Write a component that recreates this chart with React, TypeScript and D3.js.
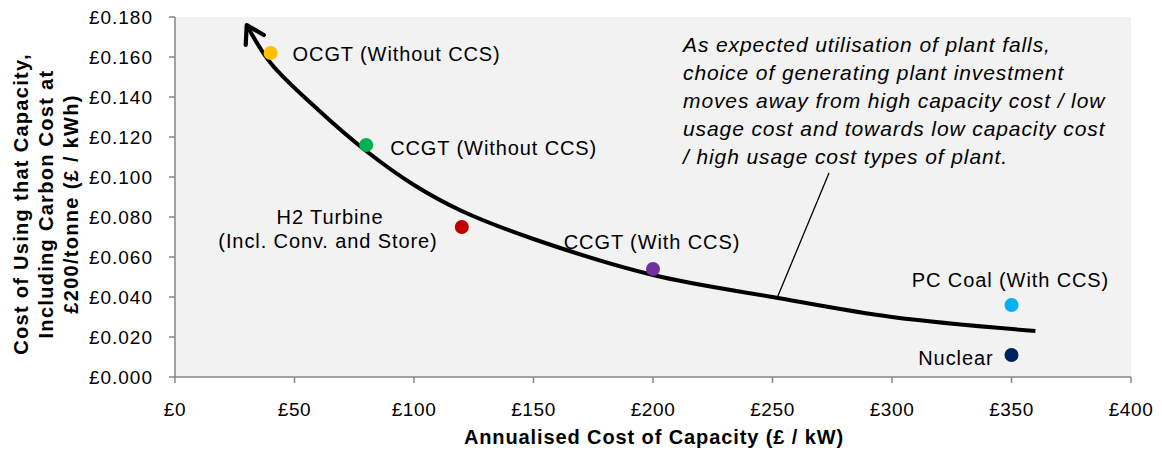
import React from "react";
import * as d3 from "d3";

const plants = ["OCGT (Without CCS)", "CCGT (Without CCS)", "H2 Turbine", "CCGT (With CCS)", "PC Coal (With CCS)", "Nuclear"];
const capacityCost = [40, 80, 120, 200, 350, 350];
const usageCost = [0.162, 0.116, 0.075, 0.054, 0.036, 0.011];
const plantColors = ["#FFC000", "#00B050", "#C00000", "#7030A0", "#00B0F0", "#002060"];

const trendX = [30, 40, 60, 80, 100, 120, 150, 200, 250, 300, 360];
const trendY = [0.176, 0.157, 0.1335, 0.113, 0.096, 0.083, 0.069, 0.051, 0.04, 0.03, 0.023];

const xTicks = [0, 50, 100, 150, 200, 250, 300, 350, 400];
const yTicks = [0, 0.02, 0.04, 0.06, 0.08, 0.1, 0.12, 0.14, 0.16, 0.18];

const annotation = [
  "As expected utilisation of plant falls,",
  "choice of generating plant investment",
  "moves away from high capacity cost / low",
  "usage cost and towards low capacity cost",
  "/ high usage cost types of plant.",
];
const yTitle = ["Cost of Using that Capacity,", "Including Carbon Cost at", "£200/tonne (£ / kWh)"];
const xTitle = "Annualised Cost of Capacity (£ / kW)";

const W = 1162, H = 453;
const L = 175, R = 1131, T = 17, B = 377;
const FONT = "'Liberation Sans', Arial, sans-serif";
const AXIS = "#868686";
const LBL = 20;
const LS = 0.9;

export default function App() {
  const x = d3.scaleLinear().domain([0, 400]).range([L, R]);
  const y = d3.scaleLinear().domain([0, 0.18]).range([B, T]);
  const line = d3.line<number>().x((d, i) => x(trendX[i])).y((d, i) => y(trendY[i])).curve(d3.curveCatmullRom.alpha(0.5));
  const path = line(trendY) || "";

  return (
    <svg width={W} height={H} style={{ position: "absolute", left: 0, top: 0, background: "#fff" }} fontFamily={FONT}>
      <defs>
        <marker id="arrow" viewBox="0 0 26 30" refX="20" refY="15" markerWidth="26" markerHeight="30" markerUnits="userSpaceOnUse" orient="auto-start-reverse">
          <path d="M3,4.7 L20,15 L3,25.3" fill="none" stroke="#000" strokeWidth={4.2} strokeLinecap="round" strokeLinejoin="round" />
        </marker>
      </defs>
      <rect x={L} y={T} width={R - L} height={B - T} fill="#f2f2f2" />
      {/* axes */}
      <line x1={L} x2={L} y1={T} y2={B} stroke={AXIS} strokeWidth={1.5} />
      <line x1={L} x2={R} y1={B} y2={B} stroke={AXIS} strokeWidth={1.5} />
      {yTicks.map((t) => (
        <g key={"y" + t}>
          <line x1={L - 6} x2={L} y1={y(t)} y2={y(t)} stroke={AXIS} strokeWidth={1.5} />
          <text x={L - 22} y={y(t)} dy="0.35em" textAnchor="end" fontSize={19} fill="#000" letterSpacing={1}>
            {"£" + t.toFixed(3)}
          </text>
        </g>
      ))}
      {xTicks.map((t) => (
        <g key={"x" + t}>
          <line x1={x(t)} x2={x(t)} y1={B} y2={B + 6} stroke={AXIS} strokeWidth={1.5} />
          <text x={x(t)} y={409} dy="0.35em" textAnchor="middle" fontSize={19} fill="#000" letterSpacing={0.6}>
            {"£" + t}
          </text>
        </g>
      ))}
      {/* axis titles */}
      <text x={(L + R) / 2 + 1} y={437} dy="0.35em" textAnchor="middle" fontSize={20} fontWeight="bold" letterSpacing={0.9}>
        {xTitle}
      </text>
      {yTitle.map((s, i) => (
        <text key={s} transform={`translate(${21 + i * 25},204) rotate(-90)`} dy="0.35em" textAnchor="middle" fontSize={20} fontWeight="bold" letterSpacing={1.3}>
          {s}
        </text>
      ))}
      {/* trend curve */}
      <path d={path} fill="none" stroke="#000" strokeWidth={4} markerStart="url(#arrow)" />
      {/* leader line */}
      <line x1={829} y1={173} x2={x(trendX[8]) + 5} y2={y(trendY[8])} stroke="#000" strokeWidth={1.3} />
      {/* points */}
      {plants.map((p, i) => (
        <circle key={p} cx={x(capacityCost[i])} cy={y(usageCost[i])} r={7} fill={plantColors[i]} />
      ))}
      {/* point labels */}
      <text x={x(capacityCost[0]) + 22} y={y(usageCost[0]) + 1} dy="0.35em" fontSize={LBL} letterSpacing={LS}>{plants[0]}</text>
      <text x={x(capacityCost[1]) + 24} y={y(usageCost[1]) + 3} dy="0.35em" fontSize={LBL} letterSpacing={LS}>{plants[1]}</text>
      <text x={330} y={217} dy="0.35em" textAnchor="middle" fontSize={LBL} letterSpacing={LS}>{plants[2]}</text>
      <text x={328} y={241} dy="0.35em" textAnchor="middle" fontSize={LBL} letterSpacing={LS}>(Incl. Conv. and Store)</text>
      <text x={x(capacityCost[3]) - 1} y={y(usageCost[3]) - 27} dy="0.35em" textAnchor="middle" fontSize={LBL} letterSpacing={LS}>{plants[3]}</text>
      <text x={x(capacityCost[4]) - 1} y={y(usageCost[4]) - 25} dy="0.35em" textAnchor="middle" fontSize={LBL} letterSpacing={LS}>{plants[4]}</text>
      <text x={x(capacityCost[5]) - 18} y={y(usageCost[5]) + 3} dy="0.35em" textAnchor="end" fontSize={LBL} letterSpacing={LS}>{plants[5]}</text>
      {/* annotation */}
      {annotation.map((s, i) => (
        <text key={i} x={683} y={45 + i * 28} dy="0.35em" fontSize={21} fontStyle="italic" letterSpacing={0.9}>
          {s}
        </text>
      ))}
    </svg>
  );
}
